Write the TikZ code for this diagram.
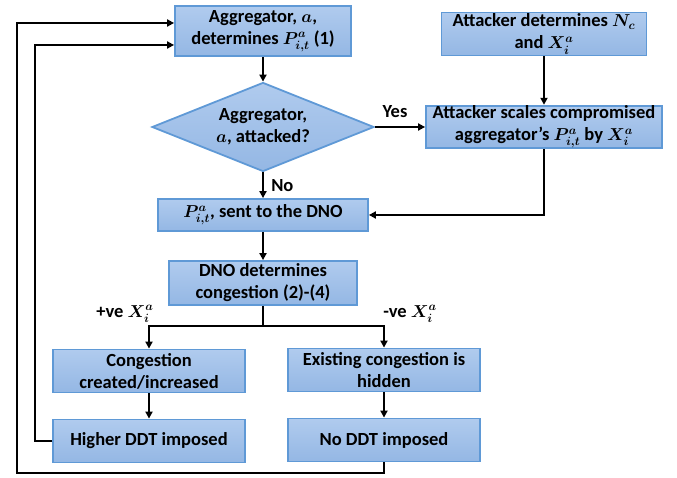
\documentclass[tikz,border=0pt]{standalone}
\usepackage{amsmath,amssymb}
\usepackage{fontspec}
\setmainfont{Carlito}
\usepackage{tikz}
\usetikzlibrary{
  arrows.meta,
  calc,
  positioning,
  shapes.geometric
}
\definecolor{FlowEdge}{HTML}{5F99D6}
\definecolor{FlowTop}{HTML}{B0CBEE}
\definecolor{FlowBottom}{HTML}{94B7E4}

\begin{document}
\begin{tikzpicture}[
  x=1pt,y=-1pt,
  box/.style={draw=FlowEdge,line width=1.8pt,top color=FlowTop,bottom color=FlowBottom,
    font=\fontsize{18.5}{22}\selectfont\bfseries\boldmath,align=center,
    inner sep=0pt,minimum height=#1},
  box/.default=42pt,
  decision/.style={diamond,draw=FlowEdge,line width=1.8pt,top color=FlowTop,bottom color=FlowBottom,
    font=\fontsize{18.5}{22}\selectfont\bfseries\boldmath,align=center,
    inner sep=0pt,minimum width=222pt,minimum height=89pt,aspect=2.5},
  flow/.style={draw,line width=2.5pt,-{Triangle[length=7pt,width=7pt]}},
  plain/.style={draw,line width=2.5pt},
  tag/.style={font=\fontsize{18.5}{22}\selectfont\bfseries\boldmath,inner sep=0pt}
]
\useasboundingbox (0,0) rectangle (677,478);
% top row
\node[box=50pt,minimum width=176pt] (agg) at (263,31) {Aggregator, $a$,\\determines $P^{a}_{i,t}$ (1)};
\node[box=43pt,minimum width=205pt] (att) at (544,34) {Attacker determines $N_c$\\and $X^{a}_{i}$};
% decision and attack branch
\node[decision] (dia) at (263,127) {Aggregator,\\$a$, attacked?};
\node[box=42pt,minimum width=236pt] (scale) at (544,127) {Attacker scales compromised\\aggregator's $P^{a}_{i,t}$ by $X^{a}_{i}$};
% DNO
\node[box=32pt,minimum width=210pt] (sent) at (263,215) {$P^{a}_{i,t}$, sent to the DNO};
\node[box=44pt,minimum width=188pt] (dno) at (263,283) {DNO determines\\congestion (2)-(4)};
% outcomes
\node[box=43pt,minimum width=192pt] (cong) at (149,371) {Congestion\\created/increased};
\node[box=43pt,minimum width=192pt] (hid) at (384,370) {Existing congestion is\\hidden};
\node[box=43pt,minimum width=192pt] (high) at (149,441) {Higher DDT imposed};
\node[box=43pt,minimum width=192pt] (noddt) at (384,440) {No DDT imposed};

\coordinate (split) at (263,326);
\coordinate (outer) at (17,473);

\draw[flow] (agg.south) -- (dia.north);
\draw[flow] (att.south) -- (scale.north);
\draw[flow] (dia.east) -- node[tag,pos=0.4,above=8pt] (yes) {Yes} (scale.west);
\draw[flow] (dia.south) -- node[tag,right=7pt] (no) {No} (sent.north);
\draw[flow] (scale.south) |- (sent.east);
\draw[flow] (sent.south) -- (dno.north);
\draw[plain] (dno.south) -- (split);
\draw[flow] (split) -| (cong.north);
\draw[flow] (split) -| (hid.north);
\node[tag] (pos) at (125,314) {+ve $X^{a}_{i}$};
\node[tag] (neg) at (410,314) {-ve $X^{a}_{i}$};
\draw[flow] (cong.south) -- (high.north);
\draw[flow] (hid.south) -- (noddt.north);
% feedback loops
\draw[flow] (high.west) -- ++(-17,0) |- ($(agg.west)+(0,14)$);
\draw[flow] (noddt.south) |- (outer) |- ($(agg.west)+(0,-8)$);
\end{tikzpicture}
\end{document}
